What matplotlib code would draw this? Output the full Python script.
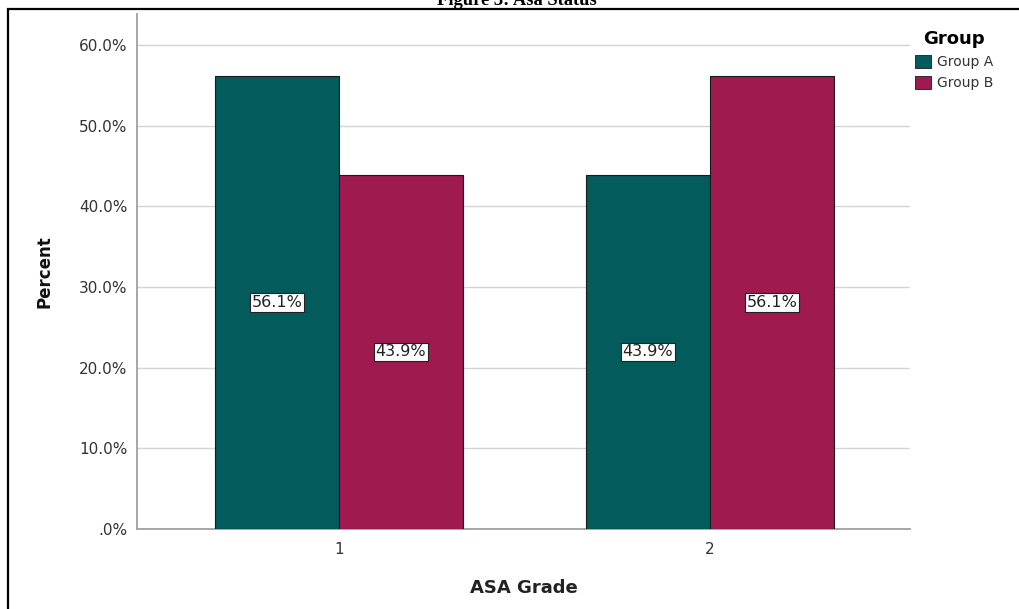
import matplotlib
matplotlib.use("Agg")
import matplotlib.pyplot as plt
from matplotlib.patches import Rectangle, Patch
import numpy as np

# Data
grades = ["1", "2"]
groups = ["Group A", "Group B"]
group_a = [56.1, 43.9]
group_b = [43.9, 56.1]
yticks = [0, 10, 20, 30, 40, 50, 60]
ytick_labels = [".0%", "10.0%", "20.0%", "30.0%", "40.0%", "50.0%", "60.0%"]

col_a = "#035B5C"
col_b = "#9E1A4F"

W, H = 1019, 609
fig = plt.figure(figsize=(W / 100, H / 100), dpi=100)
fig.patch.set_facecolor("white")

left, right, top, bottom = 137, 910, 14, 529
ax = fig.add_axes([left / W, 1 - bottom / H, (right - left) / W, (bottom - top) / H])

x = np.arange(1, len(grades) + 1)
bw = 0.334
bars_a = ax.bar(x - bw / 2, group_a, width=bw, color=col_a, edgecolor="#1a1a1a", linewidth=0.8, zorder=3)
bars_b = ax.bar(x + bw / 2, group_b, width=bw, color=col_b, edgecolor="#1a1a1a", linewidth=0.8, zorder=3)

for bars, vals in ((bars_a, group_a), (bars_b, group_b)):
    for b, v in zip(bars, vals):
        ax.text(b.get_x() + b.get_width() / 2, v / 2, f"{v:.1f}%", ha="center", va="center",
                fontsize=11.5, color="#222222", zorder=5,
                bbox=dict(boxstyle="square,pad=0.12", facecolor="white", edgecolor="#222222", linewidth=0.8))

ax.set_xlim(0.456, 2.539)
ax.set_ylim(0, (bottom - top) / ((529 - 45) / 60))
ax.set_yticks(yticks)
ax.set_yticklabels(ytick_labels)
ax.set_xticks(x)
ax.set_xticklabels(grades)
ax.tick_params(axis="both", length=0, labelsize=11, labelcolor="#333333")
ax.tick_params(axis="y", pad=7)
ax.tick_params(axis="x", pad=9)

ax.yaxis.grid(True, color="#d4d4d4", linewidth=1.0, zorder=0)
ax.set_axisbelow(True)
for s in ("top", "right"):
    ax.spines[s].set_visible(False)
for s in ("left", "bottom"):
    ax.spines[s].set_color("#a0a0a0")
    ax.spines[s].set_linewidth(1.3)

ax.set_ylabel("Percent", fontsize=12, fontweight="bold", color="#111111", labelpad=18)
ax.set_xlabel("ASA Grade", fontsize=13, fontweight="bold", color="#222222", labelpad=16)

handles = [Patch(facecolor=col_a, edgecolor="#1a1a1a", linewidth=0.6),
           Patch(facecolor=col_b, edgecolor="#1a1a1a", linewidth=0.6)]
leg = fig.legend(handles, groups, title="Group", loc="upper left",
                 bbox_to_anchor=(909 / W, 1 - 24 / H), frameon=False,
                 fontsize=10, title_fontproperties={"weight": "bold", "size": 13},
                 handlelength=1.2, handleheight=1.1, handletextpad=0.4, labelspacing=0.5,
                 borderaxespad=0)
for t in leg.get_texts():
    t.set_color("#333333")

# Outer frame and caption above it
fig.add_artist(Rectangle((8 / W, -0.05), 1.05, 1 - 9 / H + 0.05, transform=fig.transFigure,
                         fill=False, edgecolor="black", linewidth=1.6))
fig.text(517 / W, 1 - 5 / H, "Figure 3: Asa Status", ha="center", va="baseline",
         fontfamily="Liberation Serif", fontweight="bold", fontsize=13.3, color="black")

fig.savefig("out.png", dpi=100, facecolor="white")
